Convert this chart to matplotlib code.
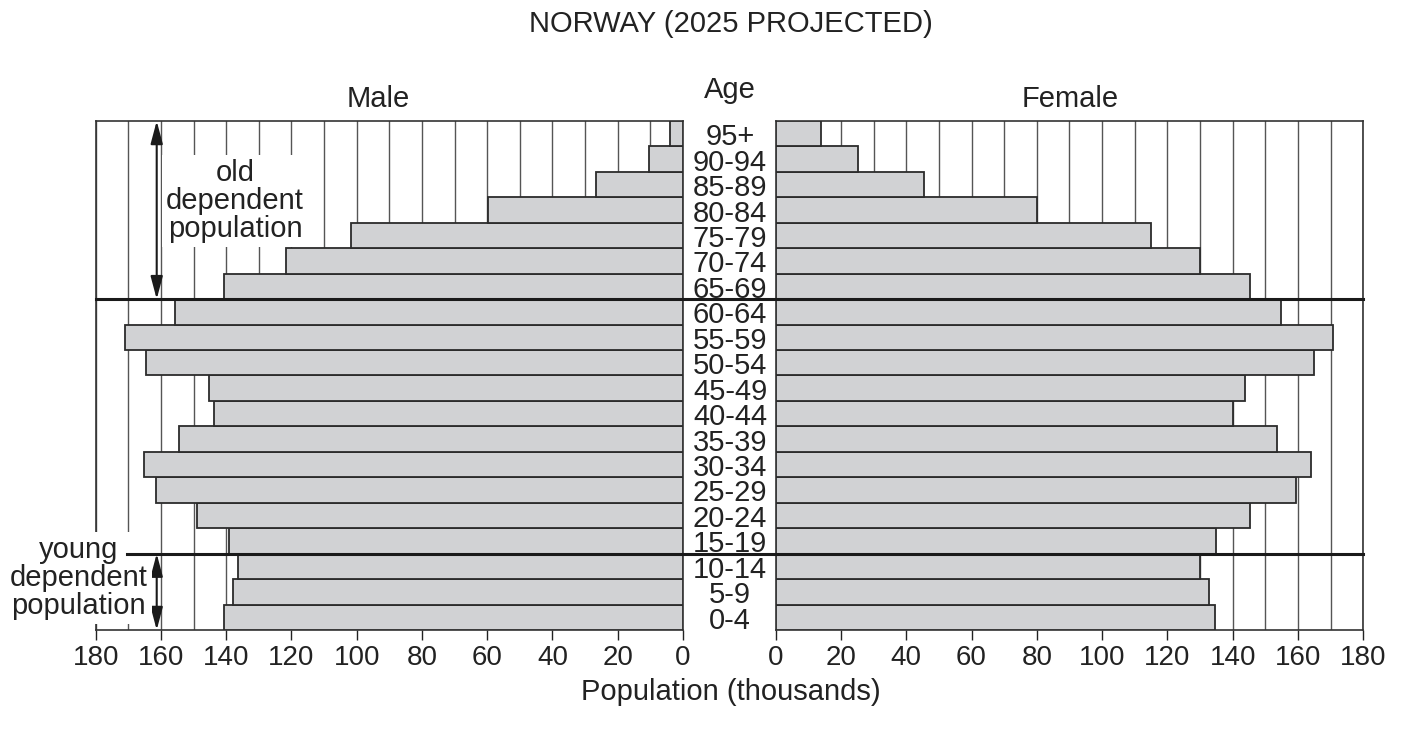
import matplotlib
matplotlib.use('Agg')
import matplotlib.pyplot as plt
import matplotlib.transforms as mtransforms
from matplotlib.lines import Line2D

plt.rcParams['font.family'] = ['Liberation Sans', 'DejaVu Sans']

# age groups from bottom (0-4) to top (95+), values in thousands
ages = ['0-4', '5-9', '10-14', '15-19', '20-24', '25-29', '30-34', '35-39',
        '40-44', '45-49', '50-54', '55-59', '60-64', '65-69', '70-74',
        '75-79', '80-84', '85-89', '90-94', '95+']
male = [140.6, 137.9, 136.3, 139.0, 149.1, 161.4, 165.1, 154.5, 143.6, 145.4,
        164.7, 171.0, 155.7, 140.7, 121.7, 101.7, 59.8, 26.6, 10.5, 4.0]
female = [134.7, 132.8, 130.1, 135.0, 145.2, 159.3, 163.9, 153.7, 140.1, 143.9,
          164.9, 170.9, 154.9, 145.3, 130.1, 115.0, 80.1, 45.5, 25.3, 13.8]

W, H = 1406, 738
def fx(px):
    return px / W
def fy(py):
    return 1 - py / H

ink = '#222222'
bar_fill = '#d1d2d4'
bar_edge = '#2b2b2b'

fig = plt.figure(figsize=(W / 100, H / 100), dpi=100)
axL = fig.add_axes([fx(95.7), fy(630), (683 - 95.7) / W, (630 - 121) / H])
axR = fig.add_axes([fx(775.7), fy(630), (1363.2 - 775.7) / W, (630 - 121) / H])

ypos = list(range(len(ages)))
for ax, vals in [(axL, male), (axR, female)]:
    ax.barh(ypos, vals, height=1.0, color=bar_fill, edgecolor=bar_edge,
            linewidth=1.3, zorder=3)
    ax.set_ylim(-0.5, len(ages) - 0.5)
    ax.set_xticks(range(0, 181, 20))
    ax.set_xticks(range(0, 181, 10), minor=True)
    ax.grid(axis='x', which='both', color='#555555', linewidth=1.0)
    ax.set_axisbelow(True)
    ax.set_yticks([])
    ax.tick_params(axis='x', which='major', length=7, width=1, pad=4,
                   labelsize=20, colors=ink)
    ax.tick_params(axis='x', which='minor', length=0)
    for s in ax.spines.values():
        s.set_color('#333333')
        s.set_linewidth(1.2)

axL.set_xlim(180, 0)
axR.set_xlim(0, 180)

# age labels in the gap
trans = mtransforms.blended_transform_factory(fig.transFigure, axL.transData)
for i, a in enumerate(ages):
    fig.text(fx(730), i - 0.45, a, transform=trans, ha='center', va='baseline',
             fontsize=21, color=ink)

# dividing lines for dependent populations
fig.add_artist(Line2D([fx(95.7), fx(1363.2)], [12.5, 12.5], transform=trans,
                      color='#1a1a1a', linewidth=2.2, zorder=5))
fig.add_artist(Line2D([fx(126.7), fx(1363.2)], [2.5, 2.5], transform=trans,
                      color='#1a1a1a', linewidth=2.2, zorder=5))

arrow = dict(arrowstyle='<|-|>,head_length=0.6,head_width=0.16', color='#1a1a1a',
             lw=1.5, mutation_scale=23, shrinkA=0, shrinkB=0)
axL.annotate('', xy=(161.3, 12.5), xytext=(161.3, 19.5), arrowprops=arrow,
             annotation_clip=False, zorder=6)
axL.annotate('', xy=(161.3, -0.5), xytext=(161.3, 2.5), arrowprops=arrow,
             annotation_clip=False, zorder=6)

box = dict(boxstyle='square,pad=0.15', fc='white', ec='none')
fig.text(fx(235), fy(159), 'old\ndependent\npopulation', ha='center', va='top',
         fontsize=21, color=ink, linespacing=1.0, bbox=box, zorder=3)
fig.text(fx(78.3), fy(536), 'young\ndependent\npopulation', ha='center', va='top',
         fontsize=21, color=ink, linespacing=1.0, bbox=box, zorder=3)

fig.text(fx(731), fy(32), 'NORWAY (2025 PROJECTED)', ha='center', va='baseline',
         fontsize=21, color=ink)
fig.text(fx(729.5), fy(98.3), 'Age', ha='center', va='baseline', fontsize=21, color=ink)
fig.text(fx(378.3), fy(107.3), 'Male', ha='center', va='baseline', fontsize=21, color=ink)
fig.text(fx(1070), fy(107.3), 'Female', ha='center', va='baseline', fontsize=21, color=ink)
fig.text(fx(731), fy(700), 'Population (thousands)', ha='center', va='baseline',
         fontsize=21, color=ink)

fig.savefig('out.png', dpi=100)
